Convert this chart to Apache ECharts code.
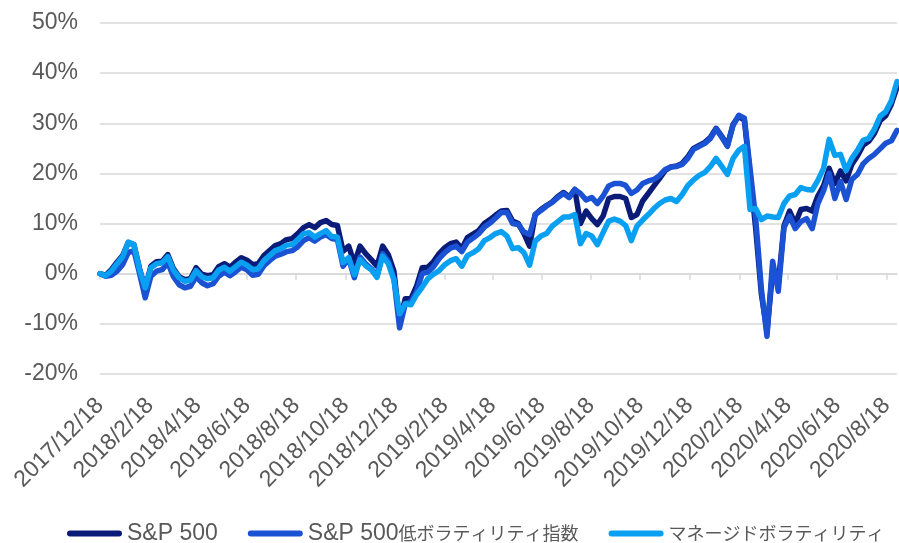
<!DOCTYPE html>
<html>
<head>
<meta charset="utf-8">
<script src="https://cdn.jsdelivr.net/npm/echarts@6/dist/echarts.min.js"></script>
<style>
  html, body { margin: 0; padding: 0; background: #fff; }
  #chart { width: 899px; height: 543px; }
</style>
</head>
<body>
<div id="chart"></div>
<script>
'use strict';

// weekly samples, first one on 2017/12/18
var startDate = [2017, 12, 18];
var stepDays = 7;

var seriesNames = ['S&P 500', 'S&P 500低ボラティリティ指数', 'マネージドボラティリティ'];

var sp500 = [
  0, -0.3, 0.8, 2.3, 3.6, 6.2, 5.8, 1.0, -3.0, 1.5, 2.4, 2.5, 3.8, 1.0, -0.6, -1.2, -1.0, 1.2, -0.1, -0.4,
  -0.2, 1.4, 2.0, 1.3, 2.3, 3.2, 2.7, 1.8, 2.0, 3.6, 4.6, 5.6, 6.0, 6.8, 7.0, 8.0, 9.2,
  9.8, 9.2, 10.2, 10.6, 9.8, 9.6, 4.5, 5.5, 2.0, 5.5, 4.0, 2.8, 1.5, 5.5, 3.8, 0.5, -9.5, -5.0, -5.0, -2.5,
  1.2, 1.3, 2.4, 4.0, 5.2, 6.0, 6.3, 5.0, 7.2, 7.9, 8.6, 10.0, 10.8, 11.7,
  12.5, 12.6, 10.5, 10.0, 8.0, 5.5, 11.8, 12.8, 13.6, 14.3, 15.4, 16.2, 15.3, 16.8, 10.0, 12.5, 11.0, 9.8,
  11.5, 15.0, 15.4, 15.4, 15.0, 11.2, 11.8, 14.5, 16.0, 17.5, 19.0, 20.6, 21.3, 21.5, 22.0, 23.3, 25.0, 25.6,
  26.2, 27.2, 29.0, 27.4, 25.6, 29.8, 31.4, 30.6, 20.0, 9.0, -4.0, -11.5, 0.5, -2.0, 9.5, 12.5, 10.0, 12.8,
  13.0, 12.5, 15.5, 17.5, 21.0, 18.0, 20.5, 18.5, 21.8, 23.5, 25.6, 26.4, 28.0, 30.5, 31.5, 33.8, 37.2
];

var lowVol = [
  0, -0.5, -0.3, 0.5, 1.8, 4.2, 4.6, 0.0, -4.8, -0.5, 0.5, 0.8, 2.2, -0.6, -2.2, -2.8, -2.5, -0.6, -1.8, -2.4,
  -2.0, -0.5, 0.3, -0.4, 0.4, 1.3, 0.8, -0.3, -0.1, 1.6, 2.6, 3.5, 3.9, 4.4, 4.6, 5.4, 6.6,
  7.2, 6.5, 7.3, 7.8, 7.0, 6.8, 1.5, 3.0, -0.8, 3.3, 2.0, 1.0, -0.5, 4.0, 2.5, -1.0, -10.8, -6.0, -5.6, -3.6,
  0.0, 0.3, 1.4, 3.0, 4.2, 5.1, 5.5, 4.4, 6.3, 7.1, 8.0, 9.3, 10.1, 11.1,
  12.2, 12.2, 10.0, 9.8, 8.3, 7.8, 11.8, 12.6, 13.5, 14.2, 15.2, 16.0, 15.2, 16.8, 16.0, 14.7, 15.2, 14.0,
  15.5, 17.5, 18.0, 18.0, 17.6, 16.0, 16.7, 18.0, 18.5, 18.8, 19.6, 20.8, 21.3, 21.4, 21.8, 23.0, 24.8, 25.4,
  26.0, 27.0, 28.9, 27.2, 25.4, 29.6, 31.6, 31.0, 21.0, 11.0, -3.0, -12.5, 2.5, -3.5, 9.2, 11.5, 9.0, 10.4,
  11.0, 9.0, 14.0, 16.5, 20.0, 15.0, 18.4, 14.8, 18.8, 19.8, 21.9, 23.0, 23.8, 24.9, 26.0, 26.5, 28.6
];

var managedVol = [
  0, -0.4, 0.5, 2.0, 3.4, 6.3, 5.8, 0.8, -2.8, 1.2, 2.0, 2.2, 3.4, 0.7, -0.8, -1.5, -1.3, 0.6, -0.6, -1.0,
  -0.8, 0.7, 1.3, 0.5, 1.4, 2.3, 1.7, 0.8, 1.0, 2.6, 3.6, 4.6, 5.0, 5.7, 5.8, 6.8, 8.0,
  8.2, 7.3, 8.0, 8.6, 7.4, 7.3, 2.2, 3.2, -0.2, 2.8, 1.6, 0.8, -0.7, 3.5, 2.0, -1.2, -8.0, -6.0, -6.2, -4.2,
  -2.7, -1.0, -0.1, 0.6, 1.8, 2.6, 3.0, 1.5, 3.6, 4.2, 5.0, 6.6, 7.2, 8.0,
  8.4, 7.5, 5.0, 5.2, 4.2, 1.7, 6.5, 7.5, 8.0, 9.5, 10.4, 11.3, 11.3, 11.8, 6.0, 8.0, 7.5, 5.8,
  8.2, 10.5, 10.9, 10.5, 9.6, 6.6, 9.5, 10.7, 11.8, 13.0, 14.0, 14.7, 15.0, 14.4, 15.8, 17.6, 18.7, 19.6,
  20.2, 21.4, 23.0, 21.4, 19.8, 23.0, 24.6, 25.4, 12.8, 13.0, 10.8, 11.5, 11.3, 11.2, 14.0, 15.5, 15.8, 17.2,
  16.8, 16.7, 18.6, 21.0, 26.8, 23.6, 23.8, 20.6, 23.0, 24.6, 26.6, 27.0, 28.8, 31.4, 32.3, 34.5, 38.3
];

var tickLabels = [
  '2017/12/18', '2018/2/18', '2018/4/18', '2018/6/18', '2018/8/18', '2018/10/18', '2018/12/18',
  '2019/2/18', '2019/4/18', '2019/6/18', '2019/8/18', '2019/10/18', '2019/12/18',
  '2020/2/18', '2020/4/18', '2020/6/18', '2020/8/18'
];

var colors = ['#0a1c78', '#1b51d3', '#0aa0f2'];

drawChart();

function drawChart() {
  var chart = echarts.init(document.getElementById('chart'));

  function toTime(s) {
    var p = s.split('/');
    return new Date(+p[0], +p[1] - 1, +p[2]).getTime();
  }
  function fmtDate(v) {
    var d = new Date(v);
    return d.getFullYear() + '/' + (d.getMonth() + 1) + '/' + d.getDate();
  }

  var dates = [];
  for (var i = 0; i < sp500.length; i++) {
    dates.push(new Date(startDate[0], startDate[1] - 1, startDate[2] + i * stepDays).getTime());
  }
  var tickTimes = tickLabels.map(toTime);

  function pairs(arr) {
    return arr.map(function (v, i) { return [dates[i], v]; });
  }

  var textColor = '#595959';
  var gridColor = '#d9d9d9';
  var latin = "'Liberation Sans', Arial, sans-serif";

  var option = {
    animation: false,
    color: colors,
    grid: { left: 100, right: 2, top: 23, bottom: 169, outerBoundsMode: 'none' },
    legend: {
      left: 62,
      top: 517,
      itemWidth: 55,
      itemHeight: 6,
      itemGap: 30,
      icon: 'path://M3,0L52,0A3,3,0,0,1,52,6L3,6A3,3,0,0,1,3,0Z',
      data: seriesNames,
      formatter: function (name) {
        return name.replace(/([^\x00-\x7F]+)/g, '{j|$1}');
      },
      textStyle: {
        color: textColor,
        fontSize: 23,
        fontFamily: latin,
        rich: {
          j: { color: textColor, fontSize: 18, fontFamily: "'Noto Sans CJK JP', sans-serif" }
        }
      }
    },
    xAxis: [
      {
        type: 'value',
        min: dates[0],
        max: dates[dates.length - 1],
        position: 'bottom',
        axisLine: { show: false, onZero: false },
        axisTick: { show: false },
        splitLine: { show: false },
        axisLabel: {
          customValues: tickTimes,
          formatter: fmtDate,
          rotate: 45,
          margin: 28,
          color: textColor,
          fontSize: 23,
          fontFamily: latin
        }
      },
      {
        type: 'value',
        min: dates[0],
        max: dates[dates.length - 1],
        position: 'top',
        axisLine: { show: true, onZero: true, lineStyle: { color: gridColor, width: 1.5 } },
        axisTick: { show: true, inside: true, length: 6, customValues: tickTimes,
                    lineStyle: { color: gridColor, width: 1.5 } },
        axisLabel: { show: false },
        splitLine: { show: false }
      }
    ],
    yAxis: {
      type: 'value',
      min: -20,
      max: 50,
      interval: 10,
      axisLine: { show: false },
      axisTick: { show: false },
      splitLine: { lineStyle: { color: gridColor, width: 1.5 } },
      axisLabel: {
        formatter: '{value}%',
        margin: 22,
        color: textColor,
        fontSize: 23,
        fontFamily: latin
      }
    },
    series: [sp500, lowVol, managedVol].map(function (arr, k) {
      return {
        name: seriesNames[k],
        type: 'line',
        xAxisIndex: 0,
        data: pairs(arr),
        showSymbol: false,
        symbol: 'none',
        lineStyle: { width: 5.5, color: colors[k], join: 'round', cap: 'round' },
        emphasis: { disabled: true }
      };
    })
  };

  chart.setOption(option);
}
</script>
</body>
</html>
